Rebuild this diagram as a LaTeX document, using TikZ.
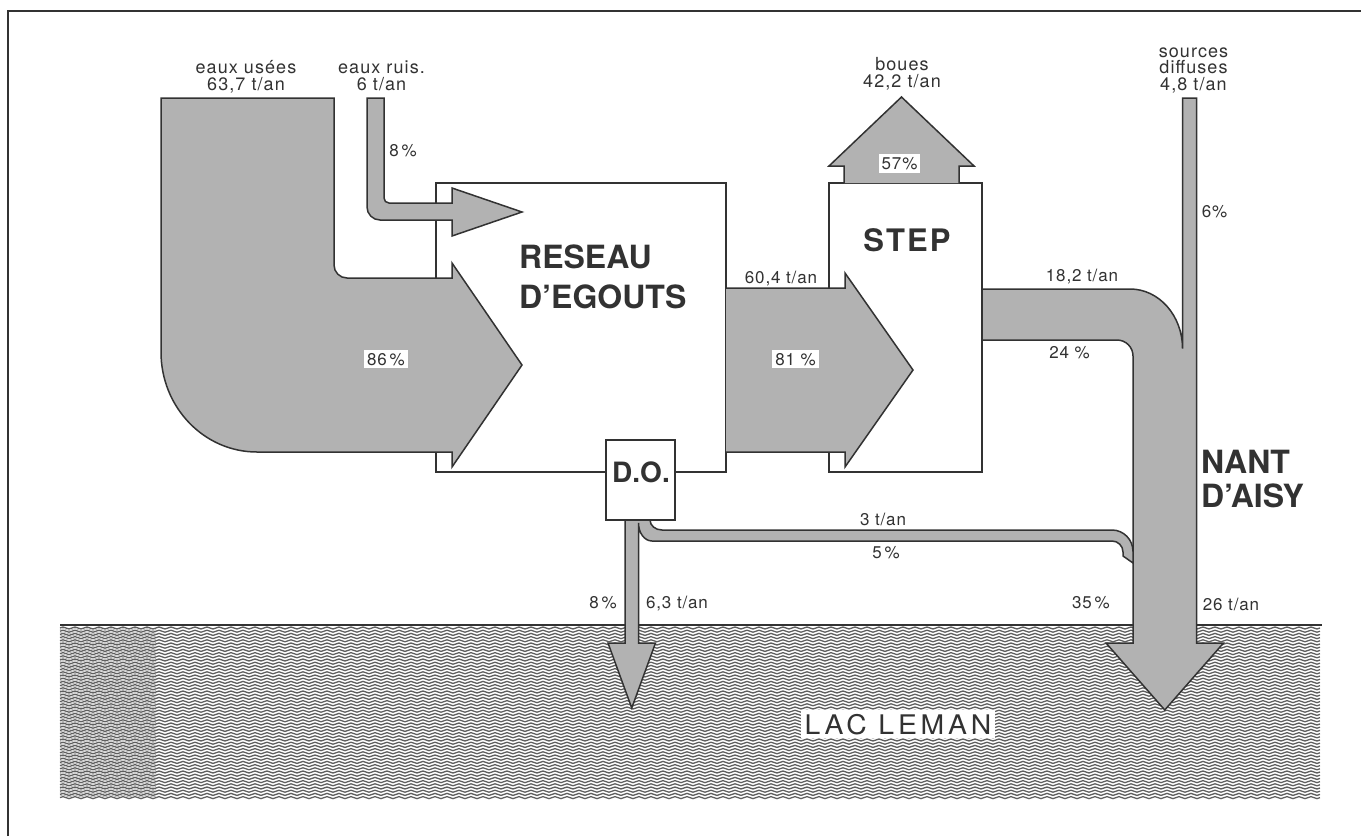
\documentclass[tikz,border=0pt]{standalone}
\usepackage{fontspec}
\setmainfont{TeX Gyre Heros}
\definecolor{ink}{RGB}{50,50,50}
\definecolor{flow}{RGB}{178,178,178}
\definecolor{wave}{RGB}{95,95,95}

\begin{document}
\begin{tikzpicture}[x=1pt, y=-1pt,
    flux/.style={draw=ink, line width=1.5pt, fill=flow, line join=miter},
    bloc/.style={draw=ink, line width=1.5pt, fill=white, inner sep=0pt,
        outer sep=0pt, anchor=north west},
    lbl/.style={text=ink, inner sep=0pt, anchor=base,
        font=\fontsize{17}{16.3}\selectfont\addfontfeature{LetterSpace=5}},
    toplbl/.style={lbl, align=center,
        font=\fontsize{18}{16.4}\selectfont\addfontfeature{LetterSpace=6}},
    pct/.style={lbl, fill=white, inner sep=3pt},
    titre/.style={text=ink, inner sep=0pt, font=\fontsize{32}{40}\selectfont\bfseries},
    wavy/.style={draw=wave, line width=1.3pt},
]
\useasboundingbox (0,0) rectangle (1361,836);

% frame
\draw[ink, line width=1.6pt] (8,836) -- (8,11) -- (1361,11);

% ── lake ──
\foreach \yy in {628,631.2,...,799}
    \draw[wavy] (60,\yy) \foreach \i in {1,...,105} {
        sin ++(3,-1) cos ++(3,1) sin ++(3,1) cos ++(3,-1) };
% denser strip on the left
\foreach \yy in {629.6,632.8,...,799}
    \draw[wavy, line width=0.35pt, draw=wave!70] (60,\yy) \foreach \i in {1,...,8} {
        sin ++(3,-1) cos ++(3,1) sin ++(3,1) cos ++(3,-1) };
\draw[ink, line width=2.6pt] (60,625) -- (1322,625);

% ── boxes ──
\node[bloc, minimum width=290pt, minimum height=289pt] (reseau) at (436,183) {};
\node[bloc, minimum width=153pt, minimum height=289pt] (step) at (829,183) {};
\node[bloc, minimum width=69pt, minimum height=80pt] (do) at (606,440) {};

% ── flows ──
% eaux usees
\draw[flux] (161,98) -- (334,98) -- (334,265)
    arc[start angle=180, end angle=90, radius=13] -- (452,278)
    -- (452,263) -- (522,365) -- (452,467) -- (452,452) -- (257,452)
    arc[start angle=90, end angle=180, x radius=96, y radius=100] -- cycle;
% eaux ruis.
\draw[flux] (367,98) -- (384,98) -- (384,198)
    arc[start angle=180, end angle=90, radius=5] -- (452,203)
    -- (452,188) -- (522,212) -- (452,236) -- (452,220) -- (380,220)
    arc[start angle=90, end angle=180, radius=13] -- cycle;
% reseau -> STEP
\draw[flux] (726,288) -- (845,288) -- (845,273) -- (913,370)
    -- (845,467) -- (845,452) -- (726,452);
% boues
\draw[flux] (844,183) -- (844,166) -- (829,166) -- (901.5,97)
    -- (974,166) -- (959,166) -- (959,183);
% STEP + sources diffuses -> Nant d'Aisy
\draw[flux] (1182.5,98) -- (1196.5,98) -- (1196.5,643) -- (1223.5,643)
    -- (1164.75,710) -- (1106,643) -- (1133,643) -- (1133,356)
    arc[start angle=0, end angle=-90, radius=16] -- (982,340) -- (982,289)
    -- (1130,289) arc[start angle=-90, end angle=0, x radius=52.5, y radius=59.5]
    -- cycle;
% D.O. outflows
\draw[flux] (625,520) -- (625,643) -- (608,643) -- (631.75,708) -- (655.5,643)
    -- (638.5,643) -- (638.5,523)
    arc[start angle=180, end angle=90, x radius=13.5, y radius=18] -- (1112,541)
    arc[start angle=-90, end angle=0, radius=11] -- (1123,556) -- (1133,563)
    -- (1133,551.5) arc[start angle=0, end angle=-90, x radius=21, y radius=21.5]
    -- (662,530) arc[start angle=90, end angle=180, x radius=12, y radius=10]
    -- cycle;

% ── titles (base = last line) ──
\node[titre, anchor=base west, align=left] (reseautxt) at (519,308) {RESEAU\\D’EGOUTS};
\node[titre, anchor=base,
    font=\fontsize{31}{40}\selectfont\bfseries\addfontfeature{LetterSpace=7}]
    (steptxt) at (907,251) {STEP};
\node[titre, anchor=base west, align=left,
    font=\fontsize{32}{33.3}\selectfont\bfseries] (nanttxt) at (1201,507) {NANT\\D’AISY};
\node[titre, anchor=base, font=\fontsize{28}{30}\selectfont\bfseries]
    (dotxt) at (641,482) {D.O.};
\node[lbl, fill=white, inner sep=4pt,
    font=\fontsize{27}{28}\selectfont\addfontfeature{LetterSpace=14,FakeStretch=1.05}]
    (lactxt) at (898,734) {LAC LEMAN};

% ── inputs / outputs ──
\node[toplbl] (usees) at (246,90) {eaux usées\\63,7 t/an};
\node[toplbl] (ruis) at (381.5,90) {eaux ruis.\\6 t/an};
\node[toplbl] (boues) at (902,87) {boues\\42,2 t/an};
\node[toplbl] (sources) at (1193.5,90) {sources\\diffuses\\4,8 t/an};

% ── flow labels ──
\node[lbl] (p8a) at (403,156) {8\,\%};
\node[pct] (p86) at (386,365) {86\,\%};
\node[lbl] (t604) at (781,283) {60,4 t/an};
\node[pct] (p81) at (795.5,365) {81 \%};
\node[pct] (p57) at (899.5,169.5) {57\%};
\node[lbl] (t182) at (1082,281) {18,2 t/an};
\node[lbl] (p24) at (1069.5,358.5) {24 \%};
\node[lbl] (p6) at (1214.5,217) {6\%};
\node[lbl] (t3) at (883,525) {3 t/an};
\node[lbl] (p5) at (886,558.5) {5\,\%};
\node[lbl] (p8b) at (603,608.5) {8\,\%};
\node[lbl] (t63) at (677,608.5) {6,3 t/an};
\node[lbl] (p35) at (1091,608.5) {35\,\%};
\node[lbl] (t26) at (1231,610) {26 t/an};

\end{tikzpicture}
\end{document}
